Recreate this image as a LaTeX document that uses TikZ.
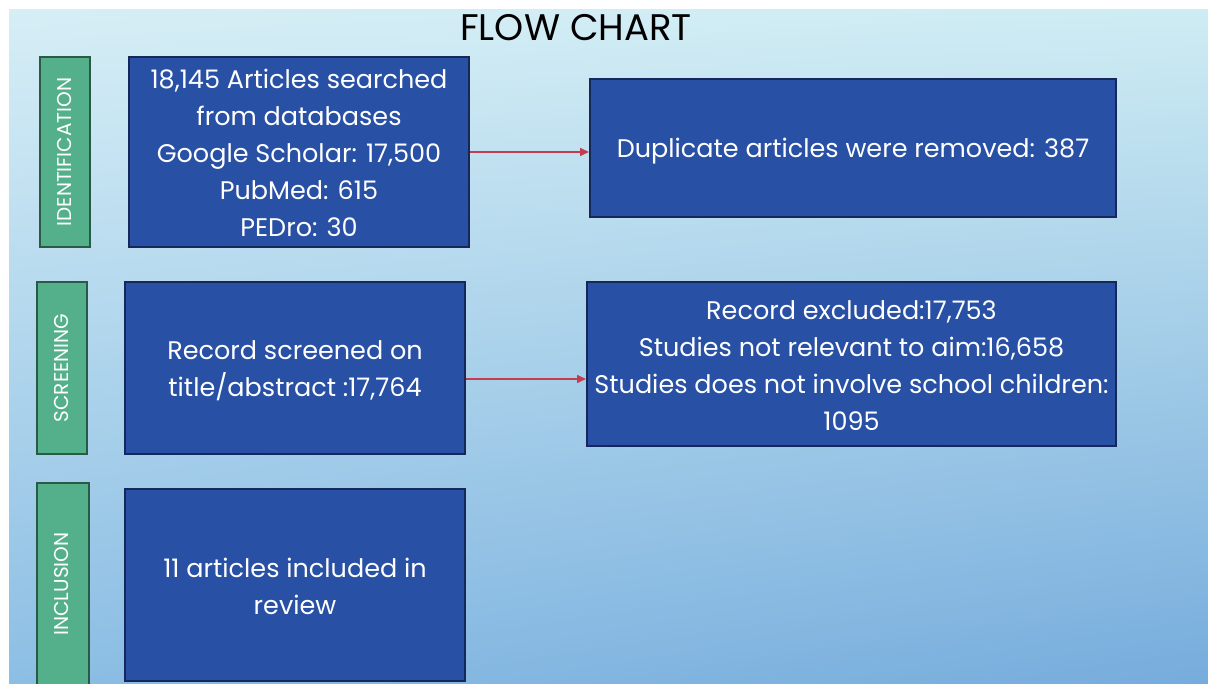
\documentclass[tikz,border=0pt]{standalone}
\usepackage{fontspec}
\setmainfont{Poppins}
\usetikzlibrary{arrows.meta,shadings}
\definecolor{boxblue}{RGB}{40,80,165}
\definecolor{boxedge}{RGB}{22,40,90}
\definecolor{labgreen}{RGB}{84,176,138}
\definecolor{labedge}{RGB}{40,90,70}
\definecolor{arrred}{RGB}{196,60,80}
\definecolor{bgTL}{RGB}{214,238,246}
\definecolor{bgTR}{RGB}{206,236,243}
\definecolor{bgBL}{RGB}{140,190,228}
\definecolor{bgBR}{RGB}{118,172,220}
\tikzset{
  bluebox/.style={draw=boxedge,line width=2pt,fill=boxblue,
    inner sep=0pt,anchor=north west},
  boxtext/.style={text=white,inner sep=0pt,align=center,
    font=\fontsize{25.5}{37}\selectfont},
  greenlab/.style={draw=labedge,line width=2pt,fill=labgreen,inner sep=0pt,anchor=north west},
  labtext/.style={text=white,rotate=90,font=\fontsize{20}{22}\selectfont},
  flowarrow/.style={draw=arrred,line width=1.6pt,-{Triangle[length=9pt,width=8pt]}}
}
\begin{document}
\begin{tikzpicture}[x=1pt,y=-1pt]
\useasboundingbox (0,0) rectangle (1208,684);
\fill[white] (0,0) rectangle (1208,684);
\shade[upper left=bgTL,upper right=bgTR,lower left=bgBL,lower right=bgBR] (9,10) rectangle (1208,684);
% title
\node[font=\fontsize{37}{40}\selectfont,text=black] (title) at (576,28) {FLOW CHART};
% green labels
\node[greenlab,minimum width=50pt,minimum height=190pt] (lid) at (39,56) {};
\node[labtext] (tid) at (lid.center) {IDENTIFICATION};
\node[greenlab,minimum width=50pt,minimum height=172pt] (lsc) at (36,281) {};
\node[labtext] (tsc) at (lsc.center) {SCREENING};
\node[greenlab,minimum width=52pt,minimum height=212pt] (lin) at (36,482) {};
\node[labtext] (tin) at (36+26,584) {INCLUSION};
% blue boxes
\node[bluebox,minimum width=340pt,minimum height=190pt] (b1) at (128,56) {};
\node[boxtext] (t1) at ([yshift=-1pt]b1.center)
  {18,145 Articles searched\\from databases\\Google Scholar: 17,500\\PubMed: 615\\PEDro: 30};
\node[bluebox,minimum width=526pt,minimum height=138pt] (b2) at (589,78) {};
\node[boxtext] (t2) at ([yshift=-3pt]b2.center) {Duplicate articles were removed: 387};
\node[bluebox,minimum width=340pt,minimum height=172pt] (b3) at (124,281) {};
\node[boxtext] (t3) at ([yshift=-3pt]b3.center) {Record screened on\\title/abstract :17,764};
\node[bluebox,minimum width=529pt,minimum height=164pt] (b4) at (586,281) {};
\node[boxtext] (t4) at ([yshift=-2pt]b4.center)
  {Record excluded:17,753\\Studies not relevant to aim:16,658\\Studies does not involve school children:\\1095};
\node[bluebox,minimum width=340pt,minimum height=192pt] (b5) at (124,488) {};
\node[boxtext] (t5) at ([yshift=-1pt]b5.center) {11 articles included in\\review};
% arrows
\draw[flowarrow] (b1.east |- 0,152) -- (b2.west |- 0,152);
\draw[flowarrow] (b3.east |- 0,379) -- (b4.west |- 0,379);
\end{tikzpicture}
\end{document}
